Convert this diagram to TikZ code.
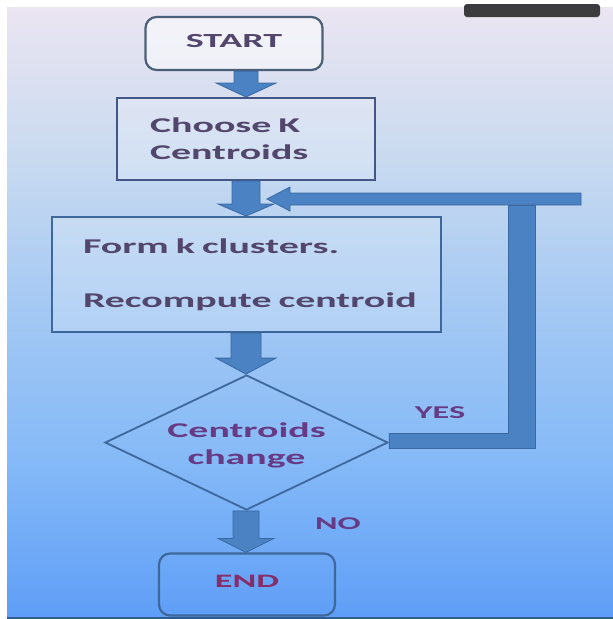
\documentclass[tikz,border=0pt]{standalone}
\usepackage{fontspec}
\newfontfamily\flow[FakeStretch=1.9]{Carlito}
\usetikzlibrary{shapes.geometric,calc}
\definecolor{bgtop}{HTML}{EBE5F2}
\definecolor{bgt2}{HTML}{C8DAF0}
\definecolor{bgmid}{HTML}{A3C8F3}
\definecolor{bgb2}{HTML}{84B9F7}
\definecolor{bgbot}{HTML}{5F9EF7}
\definecolor{arrowfill}{HTML}{4A82C4}
\definecolor{arrowline}{HTML}{3A68A0}
\definecolor{boxdark}{HTML}{4B6078}
\definecolor{boxblue}{HTML}{3E679C}
\definecolor{txtgrey}{HTML}{52466C}
\definecolor{txtpurple}{HTML}{663A84}
\definecolor{topbar}{HTML}{3C3C3E}
\definecolor{bottomline}{HTML}{2E5C8C}
\pgfdeclareverticalshading{bgshade}{100bp}{color(0bp)=(bgbot); color(25bp)=(bgbot); color(37.5bp)=(bgb2); color(50bp)=(bgmid); color(62.5bp)=(bgt2); color(75bp)=(bgtop); color(100bp)=(bgtop)}
\newcommand\blockarrow[5]{%
  \path[blockarrow] let \p1=#1, \p2=#2 in
    (\x1-#3pt,\y1) -- (\x1+#3pt,\y1) -- (\x1+#3pt,\y2+#5pt) -- (\x1+#4pt,\y2+#5pt)
    -- (\x1,\y2) -- (\x1-#4pt,\y2+#5pt) -- (\x1-#3pt,\y2+#5pt) -- cycle;}
\begin{document}
\begin{tikzpicture}[x=1pt,y=-1pt,
  txt/.style={font={\flow\bfseries\fontsize{21}{27}\selectfont}},
  startend/.style={txt, draw, line width=2.2pt, rounded corners=11pt, inner sep=0pt},
  procbox/.style={txt, draw, line width=2pt, fill=white, fill opacity=0.2, text opacity=1, inner ysep=0pt},
  blockarrow/.style={fill=arrowfill, draw=arrowline, line width=0.8pt},
  lbl/.style={font={\flow\bfseries\fontsize{18}{22}\selectfont}, text=txtpurple, inner sep=0pt}]
\useasboundingbox (0,0) rectangle (613,619);
\fill[white] (0,0) rectangle (613,619);
\shade[shading=bgshade] (7,7) rectangle (614,617);
\fill[bottomline] (7,616.5) rectangle (614,619);
\fill[topbar, rounded corners=3pt] (464,4) rectangle (600,17);
\coordinate (axis) at (246,0);
% nodes
\node[startend, draw=boxdark, fill=white, fill opacity=0.55, text opacity=1, text=txtgrey,
      minimum width=177, minimum height=53, font={\flow\bfseries\fontsize{20}{24}\selectfont}]
  (start) at (234,43.5) {\raisebox{6pt}{START}};
\node[procbox, draw=boxdark!90!blue, text=txtgrey, minimum width=258, minimum height=82,
      text width=192, inner xsep=33, align=left] (choose) at (246,139) {Choose K\\Centroids};
\node[procbox, draw=boxblue, text=txtgrey, minimum width=389, minimum height=115,
      text width=327, inner xsep=31, align=left] (form) at (246.5,274.5)
      {Form k clusters.\\[27pt]\mbox{Recompute centroid}};
\node[diamond, draw=boxblue, line width=1.8pt, minimum width=283, minimum height=135, inner sep=0pt,
      label={[txt, text=txtpurple, align=center, yshift=-3pt]center:Centroids\\change}] (dec) at (246.5,442.5) {};
\node[startend, draw=boxblue, text=txtpurple!80!red, minimum width=176, minimum height=62,
      font={\flow\bfseries\fontsize{19}{24}\selectfont}]
  (end) at (247,584.5) {\raisebox{6pt}{END}};
\node[lbl] (yes) at (440,413) {YES};
\node[lbl] (no) at (338,524) {NO};
% connectors
\blockarrow{(start.south -| axis)}{(choose.north -| axis)}{12}{30}{14}
\blockarrow{(choose.south -| axis)}{(form.north -| axis)}{14}{28}{12}
\blockarrow{(form.south -| axis)}{(dec.north -| axis)}{15}{30}{16}
\blockarrow{(dec.south -| axis)}{(end.north -| axis)}{13}{28}{14}
\coordinate (fbtip) at (267,199);
\path[blockarrow] ($(dec.east)+(0,-9.5)$) -- (508,433) -- (508,205) -- (535,205) -- (535,448) -- ($(dec.east)+(0,5.5)$) -- cycle;
\path[blockarrow] (581,193) -- (290,193) -- (290,187) -- (fbtip) -- (290,211) -- (290,205) -- (581,205) -- cycle;
\end{tikzpicture}
\end{document}
